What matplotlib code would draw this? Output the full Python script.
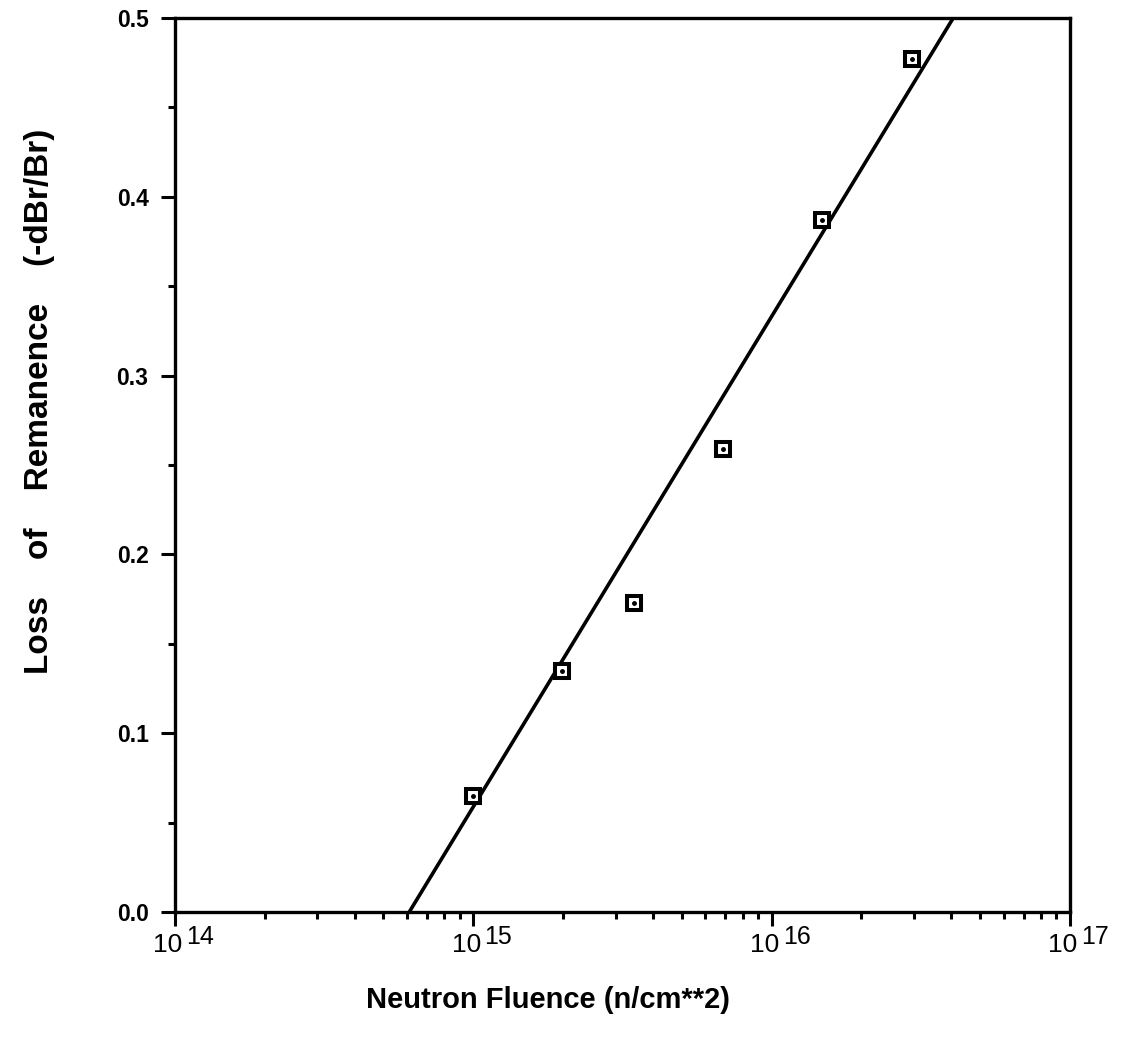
import matplotlib.pyplot as plt
import numpy as np
from matplotlib.ticker import FixedLocator, LogLocator, NullFormatter, MultipleLocator

plt.rcParams['font.family'] = ['Liberation Sans', 'DejaVu Sans']

# measured points
fluence = [1.0e15, 1.98e15, 3.46e15, 6.87e15, 1.47e16, 2.96e16]
loss = [0.065, 0.135, 0.173, 0.259, 0.387, 0.477]

# fitted line end points
fit_fluence = [6.1e14, 4.06e16]
fit_loss = [0.0, 0.5]

decades = [14, 15, 16, 17]
yticks = [0.0, 0.1, 0.2, 0.3, 0.4, 0.5]

fig = plt.figure(figsize=(11.23, 10.49), dpi=100)
ax = fig.add_axes([0.1558, 0.1306, 0.797, 0.8522])

ax.plot(fit_fluence, fit_loss, color="black", linewidth=2.6, solid_capstyle="butt")
ax.plot(fluence, loss, linestyle="none", marker="s", markersize=9.5,
        markerfacecolor="white", markeredgecolor="black", markeredgewidth=2.9)
ax.plot(fluence, loss, linestyle="none", marker="o", markersize=2.5,
        markerfacecolor="black", markeredgecolor="black")

ax.set_xscale("log")
ax.set_xlim(1e14, 1e17)
ax.set_ylim(0, 0.5)

ax.xaxis.set_major_locator(FixedLocator([10.0**d for d in decades]))
ax.xaxis.set_major_formatter(NullFormatter())
ax.xaxis.set_minor_locator(LogLocator(base=10, subs=np.arange(2, 10)))
ax.xaxis.set_minor_formatter(NullFormatter())
# decade labels: "10" with a large raised exponent
for d in decades:
    ax.annotate("10", xy=(10.0**d, 0), xycoords=("data", "axes fraction"),
                xytext=(-5, -15), textcoords="offset points",
                ha="center", va="top", fontsize=19, fontweight="medium")
    ax.annotate(str(d), xy=(10.0**d, 0), xycoords=("data", "axes fraction"),
                xytext=(8, -9.5), textcoords="offset points",
                ha="left", va="top", fontsize=18, fontweight="medium")

ax.yaxis.set_major_locator(FixedLocator(yticks))
ax.set_yticklabels(["%.1f" % v for v in yticks], fontsize=16.5, fontweight="bold")
ax.yaxis.set_minor_locator(MultipleLocator(0.05))

ax.tick_params(axis="both", which="major", direction="out", length=10, width=2.2, color="black")
ax.tick_params(axis="both", which="minor", direction="out", length=5, width=2.2, color="black")
ax.tick_params(axis="y", which="major", pad=9)

for s in ax.spines.values():
    s.set_linewidth(2.4)

fig.text(0.488, 0.047, "Neutron Fluence (n/cm**2)", fontsize=21, fontweight="bold",
         ha="center", va="center")
fig.text(0.035, 0.617, "Loss    of    Remanence    (-dBr/Br)", fontsize=24, fontweight="bold",
         ha="center", va="center", rotation=90)

fig.savefig("out.png", dpi=100)
